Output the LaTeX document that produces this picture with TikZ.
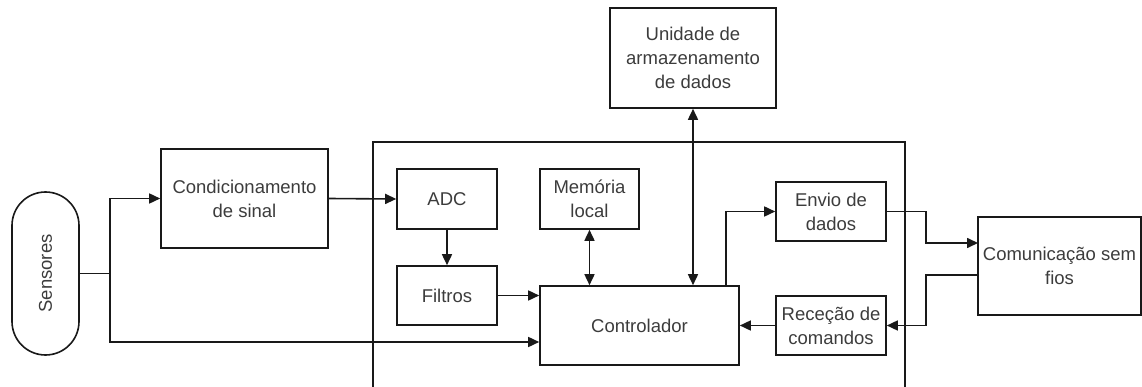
\documentclass[tikz,border=0pt]{standalone}
\usepackage{fontspec}
\setmainfont{Liberation Sans}
\usetikzlibrary{arrows.meta,shapes.misc}
\definecolor{txt}{RGB}{60,60,60}
\definecolor{ln}{RGB}{25,25,25}
\begin{document}
\begin{tikzpicture}[x=1pt,y=-1pt,
  box/.style={draw=ln,line width=1.6pt,rectangle,inner sep=2pt,align=center,text=txt,
    font=\fontsize{18.5}{24}\selectfont},
  conn/.style={draw=ln,line width=1.6pt},
  arr/.style={conn,-{Triangle[length=11pt,width=10pt]}},
  darr/.style={conn,{Triangle[length=11pt,width=10pt]}-{Triangle[length=11pt,width=10pt]}}]
\useasboundingbox (0,0) rectangle (1142,387);
% outer controller frame
\draw[conn] (373,388) -- (373,142) -- (905,142) -- (905,388);
% nodes
\node[box,rounded rectangle,rotate=90,minimum width=167pt,minimum height=67pt] (sens) at (45.5,273.5) {Sensores};
\node[box,minimum width=167pt,minimum height=99pt] (cond) at (244.5,198.5) {Condicionamento\\de sinal};
\node[box,minimum width=100pt,minimum height=60pt] (adc) at (447,199) {ADC};
\node[box,minimum width=100pt,minimum height=59pt] (filt) at (447,295.5) {Filtros};
\node[box,minimum width=99pt,minimum height=60pt] (mem) at (589.5,199) {Memória\\local};
\node[box,minimum width=199pt,minimum height=79pt] (ctrl) at (639.5,325.5) {Controlador};
\node[box,minimum width=166pt,minimum height=100pt] (stor) at (693,58) {Unidade de\\armazenamento\\de dados};
\node[box,minimum width=110pt,minimum height=59pt] (env) at (831,211.5) {Envio de\\dados};
\node[box,minimum width=110pt,minimum height=59pt] (rec) at (831,325.5) {Receção de\\comandos};
\node[box,minimum width=163pt,minimum height=98pt] (com) at (1059.5,266) {Comunicação sem\\fios};
% helper coordinates
\coordinate (j) at (110,273.5);
\coordinate (jb) at (110,342);
\coordinate (cs) at (726,285);
\coordinate (e1) at (926,211.5);
\coordinate (e2) at (926,243);
\coordinate (ce) at (978,243);
\coordinate (cr) at (978,275);
\coordinate (r1) at (926,275);
\coordinate (r2) at (926,325.5);
% connectors
\draw[conn] (sens.south) -- (j);
\draw[arr] (j) |- (cond.west);
\draw[arr] (j) -- (jb) -- (jb -| ctrl.west);
\draw[arr] (cond.east) -- (adc.west);
\draw[arr] (adc.south) -- (filt.north);
\draw[arr] (filt.east) -- (filt.east -| ctrl.west);
\draw[darr] (mem.south) -- (mem.south |- ctrl.north);
\draw[darr] (stor.south) -- (stor.south |- ctrl.north);
\draw[arr] (cs) |- (env.west);
\draw[arr] (env.east) -- (e1) -- (e2) -- (ce);
\draw[arr] (cr) -- (r1) -- (r2) -- (rec.east);
\draw[arr] (rec.west) -- (rec.west -| ctrl.east);
\end{tikzpicture}
\end{document}
